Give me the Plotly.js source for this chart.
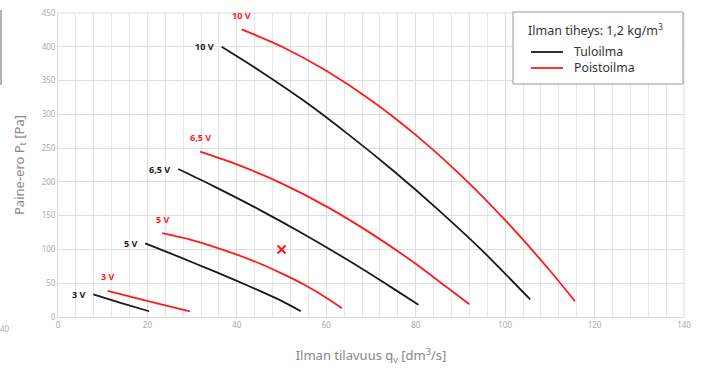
<!DOCTYPE html>
<html>
<head>
<meta charset="utf-8">
<script src="https://cdn.plot.ly/plotly-3.0.1.min.js"></script>
<style>html,body{margin:0;padding:0;background:#fff;}#chart{width:703px;height:372px;}</style>
</head>
<body>
<div id="chart"></div>
<script>
// Tuloilma (supply air) curves, black
const tulo10V_q = [36.6, 45, 55, 65, 75, 85, 95, 105.6];
const tulo10V_p = [400, 365, 320, 270, 216.5, 159, 97.5, 26];
const tulo65V_q = [26.9, 35, 45, 55, 65, 75, 80.6];
const tulo65V_p = [219, 193, 159, 122.5, 83.5, 42, 18];
const tulo5V_q = [19.5, 25, 30, 35, 40, 45, 50, 54.3];
const tulo5V_p = [109, 94.5, 81, 67.5, 53.5, 39, 23.8, 8.5];
const tulo3V_q = [7.9, 14.0, 20.4];
const tulo3V_p = [33.5, 21.0, 8.5];

// Poistoilma (exhaust air) curves, red
const poisto10V_q = [41.1, 50, 60, 70, 80, 90, 100, 110, 115.6];
const poisto10V_p = [425.8, 400.5, 364.6, 321, 269.6, 210.5, 143.5, 68.8, 23.5];
const poisto65V_q = [31.8, 40, 50, 60, 70, 80, 86.9, 92];
const poisto65V_p = [244.7, 225.8, 197.8, 163.8, 123.8, 78.8, 44.3, 18.8];
const poisto5V_q = [23.3, 30, 40, 45, 50, 55, 60, 63.5];
const poisto5V_p = [124, 113.7, 92.2, 79.5, 64.5, 48, 28.5, 13];
const poisto3V_q = [11.1, 20.6, 29.5];
const poisto3V_p = [38.5, 22.7, 8.5];

const curveLabels = ["10 V", "6,5 V", "5 V", "3 V"];
const seriesNames = ["Tuloilma", "Poistoilma"];
const legendTitle = "Ilman tiheys: 1,2 kg/m<sup>3</sup>";

// Operating point marker
const point_q = [50];
const point_p = [100];

const xTickVals = [0, 20, 40, 60, 80, 100, 120, 140];
const yTickVals = [0, 50, 100, 150, 200, 250, 300, 350, 400, 450];

const BLACK = '#1a1a1a';
const RED = '#ff1a1a';
const FONT = 'Noto Sans, DejaVu Sans, sans-serif';

const tuloSets = [[tulo10V_q, tulo10V_p], [tulo65V_q, tulo65V_p], [tulo5V_q, tulo5V_p], [tulo3V_q, tulo3V_p]];
const poistoSets = [[poisto10V_q, poisto10V_p], [poisto65V_q, poisto65V_p], [poisto5V_q, poisto5V_p], [poisto3V_q, poisto3V_p]];

const traces = [];
const annotations = [];
tuloSets.forEach((s, i) => {
  traces.push({x: s[0], y: s[1], type: 'scatter', mode: 'lines', line: {color: BLACK, width: 1.8, shape: 'spline', smoothing: 0.6},
    name: seriesNames[0], showlegend: false, hoverinfo: 'skip'});
  annotations.push({x: s[0][0], y: s[1][0], xref: 'x', yref: 'y', text: '<b>' + curveLabels[i] + '</b>', showarrow: false,
    xanchor: 'right', yanchor: 'middle', xshift: -6, font: {family: FONT, size: 9, color: BLACK}});
});
poistoSets.forEach((s, i) => {
  traces.push({x: s[0], y: s[1], type: 'scatter', mode: 'lines', line: {color: RED, width: 1.8, shape: 'spline', smoothing: 0.6},
    name: seriesNames[1], showlegend: false, hoverinfo: 'skip'});
  annotations.push({x: s[0][0], y: s[1][0], xref: 'x', yref: 'y', text: '<b>' + curveLabels[i] + '</b>', showarrow: false,
    xanchor: 'center', yanchor: 'middle', yshift: 14, font: {family: FONT, size: 9, color: RED}});
});
traces.push({x: point_q, y: point_p, type: 'scatter', mode: 'markers', showlegend: false,
  marker: {symbol: 'x-thin', size: 8, line: {color: RED, width: 2}, color: RED}, hoverinfo: 'skip'});

// legend drawn as a box with text
annotations.push({x: 0.7476, y: 0.9441, xref: 'paper', yref: 'paper', text: legendTitle, showarrow: false,
  xanchor: 'left', yanchor: 'middle', font: {family: FONT, size: 12.5, color: '#333'}});
annotations.push({x: 0.8227, y: 0.8454, xref: 'paper', yref: 'paper', text: seriesNames.join('<br>'), showarrow: false,
  xanchor: 'left', yanchor: 'middle', align: 'left', borderpad: 0, font: {family: FONT, size: 12.3, color: '#333'}});

// fragment of neighbouring chart at the left edge
annotations.push({x: -0.085, y: -0.037, xref: 'paper', yref: 'paper', text: '40', showarrow: false,
  xanchor: 'center', yanchor: 'middle', font: {family: FONT, size: 8, color: '#aaa'}});

const layout = {
  width: 703, height: 372,
  margin: {l: 58, r: 19, t: 13, b: 55},
  paper_bgcolor: '#fff', plot_bgcolor: '#fff',
  font: {family: FONT, color: '#999'},
  showlegend: false,
  xaxis: {
    range: [0, 140], tickvals: xTickVals, ticktext: xTickVals.map(String),
    showgrid: true, gridcolor: '#dedede', gridwidth: 1,
    minor: {dtick: 4, showgrid: true, gridcolor: '#e6e6e6', gridwidth: 1},
    zeroline: false, showline: true, linecolor: '#dcdcdc', ticks: '',
    tickfont: {family: FONT, size: 8, color: '#aaa'},
    title: {text: 'Ilman tilavuus q<sub>v</sub> [dm<sup>3</sup>/s]', font: {family: FONT, size: 13, color: '#888'}, standoff: 22},
    fixedrange: true
  },
  yaxis: {
    range: [0, 450], tickvals: yTickVals, ticktext: yTickVals.map(String),
    showgrid: true, gridcolor: '#dedede', gridwidth: 1,
    zeroline: false, showline: true, linecolor: '#dcdcdc', ticks: '',
    tickfont: {family: FONT, size: 8, color: '#aaa'},
    title: {text: 'Paine-ero P<sub>t</sub> [Pa]', font: {family: FONT, size: 13, color: '#888'}, standoff: 14},
    fixedrange: true
  },
  shapes: [
    {type: 'line', xref: 'paper', yref: 'paper', x0: -0.091, x1: -0.091, y0: 1.01, y1: 0.763,
     line: {color: '#999', width: 1.5}},
    {type: 'line', xref: 'paper', yref: 'paper', x0: 1, x1: 1, y0: 0, y1: 1, line: {color: '#dcdcdc', width: 1}},
    {type: 'line', xref: 'paper', yref: 'paper', x0: 0, x1: 1, y0: 1, y1: 1, line: {color: '#dcdcdc', width: 1}},
    {type: 'rect', xref: 'paper', yref: 'paper', x0: 0.7268, x1: 0.9984, y0: 0.7664, y1: 1.0033,
     fillcolor: '#fff', line: {color: '#999', width: 1}, layer: 'above'},
    {type: 'line', xref: 'paper', yref: 'paper', x0: 0.7556, x1: 0.8067, y0: 0.8717, y1: 0.8717,
     line: {color: BLACK, width: 1.8}, layer: 'above'},
    {type: 'line', xref: 'paper', yref: 'paper', x0: 0.7556, x1: 0.8067, y0: 0.8191, y1: 0.8191,
     line: {color: RED, width: 1.8}, layer: 'above'}
  ],
  annotations: annotations
};

Plotly.newPlot('chart', traces, layout, {displayModeBar: false, staticPlot: true});
</script>
</body>
</html>
